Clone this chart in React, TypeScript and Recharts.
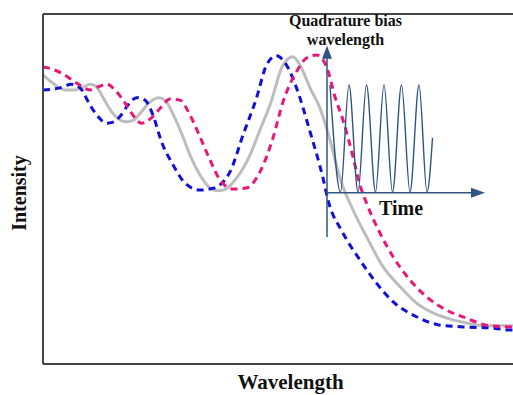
import React from "react";
import { LineChart, Line, XAxis, YAxis, ReferenceLine } from "recharts";

// wavelength (a.u.), intensity (a.u.)
const grey: [number, number][] = [
  [0, 82.6], [2, 80.2], [4.4, 78.3], [6.4, 78.3], [8.1, 79.2], [9.4, 79.9],
  [10.7, 79.2], [12.1, 75.9], [13.7, 72.1], [15.4, 69.7], [16.7, 69.2],
  [18.1, 69.7], [19.7, 72.1], [21.4, 74.9], [23.1, 76.1], [24.4, 75.4],
  [26.1, 71.1], [28.1, 64.5], [29.4, 59.7], [31.4, 54], [33.4, 50.3],
  [35, 49.5], [36.6, 50], [38.7, 53.1], [41.4, 59.7], [43.4, 66.9],
  [45.4, 74], [48, 85.4], [50, 87.8], [51.4, 85.4], [53.4, 78.9],
  [55.4, 73.1], [57.4, 64], [59.4, 53.1], [62, 44], [64.7, 36.4], [68, 27.8],
  [71.4, 22.1], [74.7, 17.4], [78, 14.6], [82, 12.6], [84.7, 11.7],
  [88.4, 10.9], [94, 10.9], [99, 10.9],
];

const blue: [number, number][] = [
  [0, 78.3], [3.4, 78.9], [5.7, 79.9], [7.4, 78.9], [9.4, 74], [11, 70.7],
  [12.7, 68.8], [14, 69.1], [15.4, 70.7], [17, 74], [18.7, 76.1],
  [20.4, 75.4], [22, 71.1], [23.7, 63.5], [26, 56.9], [28.4, 51.7],
  [31.4, 49.7], [34, 50.2], [37.4, 54.9], [40, 65.4], [42.7, 76],
  [44.7, 85.4], [46.7, 88.1], [48.7, 85.4], [50.7, 78.9], [53.4, 66.4],
  [56, 53.1], [57, 46.9], [60, 37.4], [63.4, 29.7], [66.7, 23.1], [70, 17.8],
  [74.7, 13.5], [79.4, 11.1], [84, 10.6], [89.4, 10.3], [94, 9.7], [99, 9.9],
];

const pink: [number, number][] = [
  [0, 84.9], [1, 84.6], [3.7, 83.1], [6.7, 80.3], [9.4, 78.3], [11.4, 79.4],
  [12.7, 80], [14.7, 77.8], [16.4, 74.6], [18, 71.1], [19.7, 68.8],
  [21.7, 70.3], [23.7, 73.5], [25.4, 75.7], [27.4, 75.4], [29.4, 71.1],
  [31.4, 64.9], [33.4, 58.3], [35.4, 52.6], [38, 50], [40.7, 50.3],
  [43.4, 54.9], [46, 64.6], [48, 74.9], [50.7, 83.5], [52.7, 87.4],
  [54.7, 88.3], [56.8, 84.6], [58.4, 76.3], [60, 69.7], [62, 59.2],
  [63.4, 51.1], [64.7, 46], [67.4, 37.4], [70, 30.7], [73.4, 24],
  [76.7, 19.2], [80.7, 15.4], [84.7, 13.1], [88.7, 11.1], [94, 10.6],
  [99, 10.6],
];

// inset: detected signal vs time at the quadrature bias wavelength
const signal: [number, number][] = [
  [57.4, 79.7], [59.5, 49.1], [61.2, 79.7], [63, 49.1], [64.7, 79.7],
  [66.5, 49.1], [68.2, 79.7], [69.9, 49.1], [71.7, 79.7], [73.4, 49.1],
  [75.2, 79.7], [76.8, 49.1], [77.9, 64.6],
];

const rows = (pts: [number, number][]) => pts.map(([x, y]) => ({ x, y }));

const INSET = "#2f5583";
const FONT = "'Liberation Serif', 'Times New Roman', serif";

const VertArrow = (p: any) => {
  const { x1, y1, x2, y2 } = p;
  return (
    <g>
      <line x1={x1} y1={y1} x2={x2} y2={y2 + 10} stroke={INSET} strokeWidth={1.5} />
      <polygon points={`${x2},${y2} ${x2 - 5},${y2 + 13} ${x2 + 5},${y2 + 13}`} fill={INSET} />
      <text x={x2 + 18.5} y={y2 - 20} textAnchor="middle" fontFamily={FONT} fontWeight="bold" fontSize={16} fill="#111">
        Quadrature bias
      </text>
      <text x={x2 + 18.5} y={y2 - 1} textAnchor="middle" fontFamily={FONT} fontWeight="bold" fontSize={16} fill="#111">
        wavelength
      </text>
    </g>
  );
};

const HorzArrow = (p: any) => {
  const { x1, y1, x2, y2 } = p;
  return (
    <g>
      <line x1={x1} y1={y1} x2={x2 - 10} y2={y2} stroke={INSET} strokeWidth={1.5} />
      <polygon points={`${x2},${y2} ${x2 - 14},${y2 - 5} ${x2 - 14},${y2 + 5}`} fill={INSET} />
      <text x={x1 + 52} y={y1 + 22} fontFamily={FONT} fontWeight="bold" fontSize={20} fill="#111">
        Time
      </text>
    </g>
  );
};

export default function App() {
  return (
    <div style={{ position: "absolute", left: 0, top: 0, width: 513, height: 395, overflow: "hidden", background: "#fff" }}>
      <LineChart width={540} height={395} margin={{ top: 14, right: 2, left: 0, bottom: 1 }}>
        <XAxis
          type="number"
          dataKey="x"
          domain={[0, 99]}
          allowDataOverflow
          height={30}
          tick={false}
          tickLine={false}
          axisLine={{ stroke: "#444", strokeWidth: 2 }}
          label={(props: any) => {
            const vb = props.viewBox;
            return (
              <text x={vb.x + vb.width / 2} y={vb.y + 25} textAnchor="middle" fontFamily={FONT} fontWeight="bold" fontSize={21} fill="#111">
                Wavelength
              </text>
            );
          }}
        />
        <YAxis
          type="number"
          domain={[0, 100]}
          allowDataOverflow
          width={43}
          tick={false}
          tickLine={false}
          axisLine={{ stroke: "#444", strokeWidth: 2 }}
          label={(props: any) => {
            const vb = props.viewBox;
            const cx = 18.5;
            const cy = vb.y + vb.height / 2 + 4;
            return (
              <text x={cx} y={cy} transform={`rotate(-90 ${cx} ${cy})`} textAnchor="middle" dominantBaseline="central" fontFamily={FONT} fontWeight="bold" fontSize={20} fill="#111">
                Intensity
              </text>
            );
          }}
        />
        <ReferenceLine y={100} stroke="#444" strokeWidth={2} />
        <Line data={rows(grey)} dataKey="y" type="monotone" stroke="#bdbdbd" strokeWidth={3} dot={false} isAnimationActive={false} />
        <Line data={rows(blue)} dataKey="y" type="monotone" stroke="#1010d6" strokeWidth={3} strokeDasharray="7 5" dot={false} isAnimationActive={false} />
        <Line data={rows(pink)} dataKey="y" type="monotone" stroke="#e8177a" strokeWidth={3} strokeDasharray="7 5" dot={false} isAnimationActive={false} />
        <Line data={rows(signal)} dataKey="y" type="monotone" stroke={INSET} strokeWidth={1.4} dot={false} isAnimationActive={false} />
        <ReferenceLine segment={[{ x: 56.8, y: 36.3 }, { x: 56.8, y: 90.9 }]} shape={VertArrow} />
        <ReferenceLine segment={[{ x: 56.8, y: 48.9 }, { x: 88.4, y: 48.9 }]} shape={HorzArrow} />
      </LineChart>
    </div>
  );
}
